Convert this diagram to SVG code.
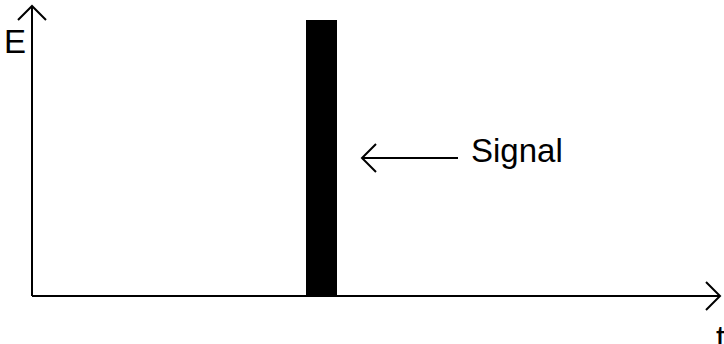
<svg xmlns="http://www.w3.org/2000/svg" width="724" height="344" viewBox="0 0 724 344">
<style>
.ax{stroke:#000;stroke-width:2;fill:none}
.lbl{font-family:"Liberation Sans",Arial,sans-serif;font-size:33px;fill:#000}
</style>
<rect width="724" height="344" fill="#fff"/>
<g id="connectors">
<path class="ax" d="M32,296 V6 M18,20 L32,6 L46,20"/>
<path class="ax" d="M32,296 H720 M706,282 L720,296 L706,310"/>
<path class="ax" d="M458,158 H362 M376,144 L362,158 L376,172"/>
</g>
<g id="signal-bar"><rect x="306" y="20" width="31" height="276" fill="#000"/></g>
<g id="label-E"><text class="lbl" x="4" y="53">E</text></g>
<g id="label-t"><text class="lbl" x="716" y="349">t</text></g>
<g id="label-signal"><text class="lbl" x="471" y="162">Signal</text></g>
</svg>
